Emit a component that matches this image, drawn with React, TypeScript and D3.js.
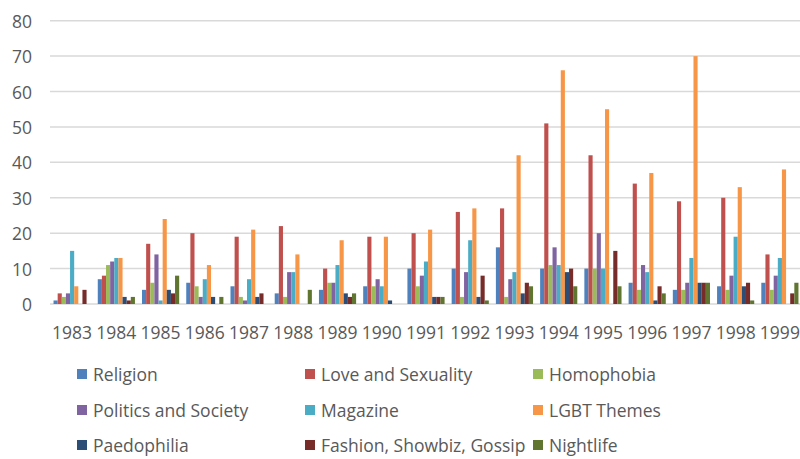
import * as d3 from 'd3';

const years = ['1983', '1984', '1985', '1986', '1987', '1988', '1989', '1990', '1991', '1992', '1993', '1994', '1995', '1996', '1997', '1998', '1999'];

const religion = [1, 7, 4, 6, 5, 3, 4, 5, 10, 10, 16, 10, 10, 6, 4, 5, 6];
const loveAndSexuality = [3, 8, 17, 20, 19, 22, 10, 19, 20, 26, 27, 51, 42, 34, 29, 30, 14];
const homophobia = [2, 11, 6, 5, 2, 2, 6, 5, 5, 2, 2, 11, 10, 4, 4, 4, 4];
const politicsAndSociety = [3, 12, 14, 2, 1, 9, 6, 7, 8, 9, 7, 16, 20, 11, 6, 8, 8];
const magazine = [15, 13, 1, 7, 7, 9, 11, 5, 12, 18, 9, 11, 10, 9, 13, 19, 13];
const lgbtThemes = [5, 13, 24, 11, 21, 14, 18, 19, 21, 27, 42, 66, 55, 37, 70, 33, 38];
const paedophilia = [0, 2, 4, 2, 2, 0, 3, 1, 2, 2, 3, 9, 0, 1, 6, 5, 0];
const fashion = [4, 1, 3, 0, 3, 0, 2, 0, 2, 8, 6, 10, 15, 5, 6, 6, 3];
const nightlife = [0, 2, 8, 2, 0, 4, 3, 0, 2, 1, 5, 5, 5, 3, 6, 1, 6];

const seriesNames = ['Religion', 'Love and Sexuality', 'Homophobia', 'Politics and Society', 'Magazine', 'LGBT Themes', 'Paedophilia', 'Fashion, Showbiz, Gossip', 'Nightlife'];
const seriesValues = [religion, loveAndSexuality, homophobia, politicsAndSociety, magazine, lgbtThemes, paedophilia, fashion, nightlife];
const colors = ['#4F81BD', '#C0504D', '#9BBB59', '#8064A2', '#4BACC6', '#F79646', '#2C4D75', '#772C2A', '#5F7530'];

const yTicks = [0, 10, 20, 30, 40, 50, 60, 70, 80];

const width = 800;
const height = 459;
const font = '"Open Sans", "Liberation Sans", sans-serif';
const textColor = '#595959';

export default function App() {
  const x = d3.scaleBand<string>()
    .domain(years)
    .range([50, 802])
    .paddingInner(0.16)
    .paddingOuter(0.08);

  const x1 = d3.scaleBand<number>()
    .domain(d3.range(seriesNames.length))
    .range([0, x.bandwidth()]);

  const y = d3.scaleLinear()
    .domain([0, 80])
    .range([304, 20.7]);

  // legend: 3 columns, 3 rows
  const legendCols = [77, 305, 533];
  const legendRows = [374, 410, 445];

  return (
    <svg width={width} height={height} viewBox={`0 0 ${width} ${height}`}
      style={{ position: 'fixed', top: 0, left: 0, background: '#fff' }}>
      <rect width={width} height={height} fill="#fff" />
      {yTicks.map(t => (
        <g key={t}>
          <line x1={50} x2={800} y1={y(t)} y2={y(t)} stroke="#d9d9d9" strokeWidth={1.5} />
          <text x={32} y={y(t)} textAnchor="end" dominantBaseline="central"
            fontFamily={font} fontSize={17.5} fill={textColor}>{t}</text>
        </g>
      ))}
      {seriesValues.map((vals, si) => (
        <g key={si} fill={colors[si]}>
          {vals.map((v, i) => (
            <rect key={i}
              x={(x(years[i]) ?? 0) + (x1(si) ?? 0)}
              y={y(v)}
              width={x1.bandwidth()}
              height={y(0) - y(v)} />
          ))}
        </g>
      ))}
      {years.map(yr => (
        <text key={yr} x={(x(yr) ?? 0) + x.bandwidth() / 2} y={332} textAnchor="middle"
          dominantBaseline="central" fontFamily={font} fontSize={17.5} fill={textColor}>{yr}</text>
      ))}
      {seriesNames.map((name, i) => {
        const cx = legendCols[i % 3];
        const cy = legendRows[Math.floor(i / 3)];
        return (
          <g key={name}>
            <rect x={cx} y={cy - 5} width={10} height={10} fill={colors[i]} />
            <text x={cx + 16} y={cy} dominantBaseline="central"
              fontFamily={font} fontSize={17.5} fill={textColor}>{name}</text>
          </g>
        );
      })}
    </svg>
  );
}
